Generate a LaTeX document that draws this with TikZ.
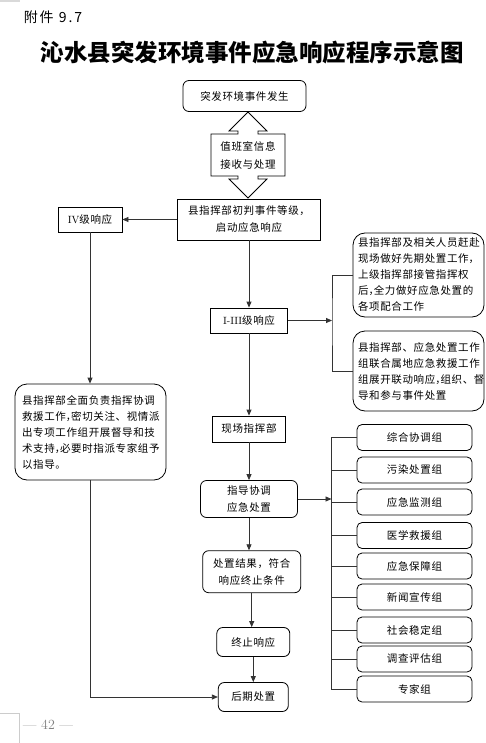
\documentclass[tikz,border=0pt]{standalone}
\usepackage{fontspec}
\usetikzlibrary{arrows.meta, calc}
\newfontfamily\cjk{Noto Sans CJK SC}[LetterSpace=6]
\newfontfamily\cjkplain{Noto Sans CJK SC}
\newfontfamily\cjkwide{Noto Sans CJK SC}[LetterSpace=14]
\newcommand\hcomma{{\addfontfeature{RawFeature=+halt}，}}

\begin{document}
\begin{tikzpicture}[x=1pt, y=-1pt,
                    plainbox/.style={draw, line width=0.8pt, font=\cjk\fontsize{10.5}{17}\selectfont, align=center, inner sep=2pt},
                    roundbox/.style={plainbox, rounded corners=6pt},
                    textbox/.style={roundbox, rounded corners=12pt, align=left, inner xsep=5pt, inner ysep=3pt, font=\cjk\fontsize{10.5}{16}\selectfont},
                    groupbox/.style={roundbox, rounded corners=5pt, minimum width=115pt, minimum height=26pt},
                    flow/.style={-{Triangle[length=6pt,width=5pt]}, line width=0.8pt, black!80},
                    link/.style={line width=0.8pt, black!80}]
    \useasboundingbox (0,0) rectangle (485,743);

    % heading
    \node[font=\cjkwide\fontsize{14}{14}\selectfont] (annex) at (53,17) {附件 9.7};
    \node[font=\cjkplain\bfseries\fontsize{23.5}{23.5}\selectfont] (title) at (252,53) {沁水县突发环境事件应急响应程序示意图};

    % main column
    \node[roundbox, minimum width=123pt, minimum height=31pt] (occur) at (244.5,96) {突发环境事件发生};
    \node[font=\cjk\fontsize{10.5}{18}\selectfont, align=center] (duty) at (248,155) {值班室信息\\接收与处理};
    \draw[line width=0.8pt, shift={(duty.center)}]
        (0,-43) -- (19,-24) -- (10,-24) -- (10,-21) -- (37,-21) -- (37,21) -- (10,21) -- (10,24) -- (19,24) -- (0,43)
        -- (-19,24) -- (-10,24) -- (-10,21) -- (-37,21) -- (-37,-21) -- (-10,-21) -- (-10,-24) -- (-19,-24) -- cycle;
    \node[plainbox, minimum width=143pt, minimum height=41pt] (judge) at (249,219.5) {县指挥部初判事件等级，\\启动应急响应};
    \node[plainbox, minimum width=64pt, minimum height=25pt] (lvfour) at (90,219.5) {\textrm{IV}级响应};
    \node[plainbox, minimum width=77pt, minimum height=25pt] (lvone) at (249,320.5) {\textrm{I-III}级响应};
    \node[plainbox, minimum width=73pt, minimum height=26pt] (site) at (249,429) {现场指挥部};
    \node[roundbox, minimum width=97pt, minimum height=37pt] (guide) at (249,499) {指导协调\\应急处置};
    \node[roundbox, minimum width=98pt, minimum height=42pt] (result) at (251.7,571.7) {处置结果，符合\\响应终止条件};
    \node[roundbox, minimum width=73pt, minimum height=29pt] (stop) at (253.3,642) {终止响应};
    \node[roundbox, minimum width=70pt, minimum height=29pt] (after) at (253.3,697) {后期处置};

    % side boxes
    \node[textbox, text width=121pt, minimum height=84pt] (early) at (418.5,275)
        {县指挥部及相关人员赶赴\\现场做好先期处置工作\hcomma\\上级指挥部接管指挥权\\后\hcomma 全力做好应急处置的\\各项配合工作};
    \node[textbox, text width=121pt, minimum height=80pt] (joint) at (418.5,371)
        {县指挥部、应急处置工作\\组联合属地应急救援工作\\组展开联动响应\hcomma 组织、督\\导和参与事件处置};
    \node[textbox, text width=137pt, inner xsep=7pt, minimum height=96pt] (lead) at (90.5,432)
        {县指挥部全面负责指挥协调\\救援工作\hcomma 密切关注、视情派\\出专项工作组开展督导和技\\术支持\hcomma 必要时指派专家组予\\以指导。};

    % working groups
    \foreach \gname/\gy/\gtext in {g1/437.5/综合协调组, g2/470/污染处置组, g3/502/应急监测组,
                                   g4/535.5/医学救援组, g5/566/应急保障组, g6/597/新闻宣传组,
                                   g7/630/社会稳定组, g8/659/调查评估组, g9/689/专家组}
        \node[groupbox] (\gname) at (414.5,\gy) {\gtext};

    % connectors
    \coordinate (bus1) at (332,320.5);
    \coordinate (bus2) at (331.5,499);
    \draw[flow] (judge.west) -- (lvfour.east);
    \draw[flow] (judge.south) -- (lvone.north);
    \draw[flow] (lvone.east) -- (bus1);
    \draw[link] (early.west) -| (bus1) |- (joint.west);
    \draw[flow] (lvone.south) -- (site.north);
    \draw[flow] (site.south) -- (guide.north);
    \draw[flow] (guide.east) -- (bus2);
    \draw[link] (g1.west) -| (bus2) |- (g9.west);
    \foreach \i in {2,...,8}
        \draw[link] (g\i.west) -- (g\i.west -| bus2);
    \draw[flow] (guide.south) -- (guide.south |- result.north);
    \draw[flow] (result.south) -- (result.south |- stop.north);
    \draw[flow] (stop.south) -- (after.north);
    \draw[flow] (lvfour.south) -- (lvfour.south |- lead.north);
    \draw[flow] (lead.south) |- (after.west);

    % page marks
    \draw[gray!30, line width=2pt] (0,1) -- (20,1);
    \draw[gray!40] (0,713) -- (19,713) -- (19,743);
    \node[font=\fontsize{14}{14}\selectfont, text=gray] (page) at (48,725) {— 42 —};
\end{tikzpicture}
\end{document}
